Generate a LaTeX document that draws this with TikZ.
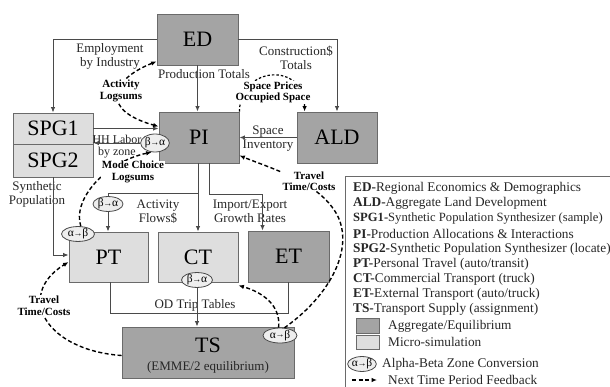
\documentclass[tikz,border=0pt]{standalone}
\usepackage{fontspec}
\setmainfont{Liberation Serif}
\usetikzlibrary{arrows.meta,shapes.geometric}
\definecolor{agg}{HTML}{A4A4A4}
\definecolor{mic}{HTML}{DEDEDE}
\definecolor{ell}{HTML}{EEEEEE}
\definecolor{bord}{HTML}{6A6A6A}
\definecolor{ln}{HTML}{4A4A4A}
\newcommand{\myarr}{\kern-0.3pt\raisebox{0.5pt}{\fontsize{9}{9}\selectfont →}\kern-0.3pt}
\begin{document}
\begin{tikzpicture}[x=1pt,y=-1pt,
  >={Latex[length=5.5pt,width=4.5pt]},
  aggbox/.style={draw=bord,fill=agg,line width=0.9pt,inner sep=0pt,font=\fontsize{22}{24}\selectfont},
  micbox/.style={draw=bord,fill=mic,line width=0.9pt,inner sep=0pt,font=\fontsize{22}{24}\selectfont},
  conv/.style={ellipse,draw=ln,fill=ell,line width=0.8pt,inner sep=0pt,font=\fontsize{11.5}{12}\selectfont},
  flow/.style={draw=ln,line width=0.9pt,->},
  plain/.style={draw=ln,line width=0.9pt},
  fb/.style={draw=black,line width=1.4pt,dash pattern=on 4pt off 2.5pt},
  lab/.style={font=\fontsize{13}{14}\selectfont,align=center,inner sep=0.5pt,text=black!85},
  blab/.style={font=\bfseries\fontsize{11}{11.5}\selectfont,align=center,fill=white,inner sep=0.5pt},
  leg/.style={font=\fontsize{13.3}{15}\selectfont,anchor=west,inner sep=0pt,text=black!85}]
\useasboundingbox (0,0) rectangle (610,387);

% boxes
\node[aggbox,minimum width=81pt,minimum height=51pt] (ED) at (197.5,39.5) {ED};
\node[aggbox,minimum width=80pt,minimum height=51pt] (PI) at (199,137.5) {PI};
\node[aggbox,minimum width=80pt,minimum height=51pt] (ALD) at (337,137.5) {ALD};
\node[micbox,minimum width=80pt,minimum height=31pt] (SPG1) at (53,128.5) {SPG1};
\node[micbox,minimum width=80pt,minimum height=33pt] (SPG2) at (53,160.5) {SPG2};
\node[micbox,minimum width=79pt,minimum height=50pt] (PT) at (108.5,257) {PT};
\node[micbox,minimum width=80pt,minimum height=50pt] (CT) at (198,257) {CT};
\node[aggbox,minimum width=81pt,minimum height=51pt] (ET) at (288.5,256.5) {ET};
\node[aggbox,minimum width=172pt,minimum height=51pt] (TS) at (208,352.5) {};
\node[font=\fontsize{22}{24}\selectfont,inner sep=0pt] (tsl) at (208,345) {TS};
\node[lab] (tss) at (208,367) {(EMME/2 equilibrium)};

% conversion ellipses
\node[conv,minimum width=25pt,minimum height=18pt] (e1) at (155,143) {β\myarr α};
\node[conv,minimum width=30pt,minimum height=13pt] (e2) at (108,204) {β\myarr α};
\node[conv,minimum width=33pt,minimum height=13pt] (e3) at (78,234) {α\myarr β};
\node[conv,minimum width=31pt,minimum height=14pt] (e4) at (197,280) {β\myarr α};
\node[conv,minimum width=34pt,minimum height=15pt] (e5) at (280,335.5) {α\myarr β};

% plain labels
\node[lab] (lemp) at (110,56) {Employment\\by Industry};
\node[lab] (lprod) at (204,74) {Production Totals};
\node[lab] (lcon) at (296,58) {Construction\$\\Totals};
\node[lab,font=\fontsize{12}{12}\selectfont] (lhh) at (117,147) {HH Labor\\by zone};
\node[lab] (lspace) at (268,139) {Space\\Inventory};
\node[lab] (lsyn) at (37,194.5) {Synthetic\\Population};
\node[lab] (lact) at (158,211.5) {Activity\\Flows\$};
\node[lab] (limp) at (250,211.5) {Import/Export\\Growth Rates};
\node[lab] (lod) at (195,305) {OD Trip Tables};

% solid connectors
\draw[flow] (ED.west) -| (SPG1.north);
\draw[flow] (ED.east) -| (ALD.north);
\draw[flow] (ED.south) -- (ED.south |- PI.north);
\draw[flow] (SPG1.east) -- (SPG1.east -| PI.west);
\draw[flow] (e1.west) -- (e1.west -| SPG1.east);
\draw[flow] (ALD.west) -- (PI.east);
\coordinate (pib) at (198,163);
\coordinate (j1) at (198,193);
\draw[flow] (pib) -- (CT.north);
\draw[plain] (j1) -| (e2.north);
\draw[flow] (e2.south) -- (e2.south |- PT.north);
\draw[flow] ([xshift=10pt]PI.south) -- ++(0,31) -| ([xshift=-26pt]ET.north);
\draw[flow] (SPG2.south) |- ([yshift=2pt]PT.west);
\draw[plain] ([xshift=1.5pt]PT.south) -- ++(0,31) -| (ET.south);
\draw[flow] (e4.south) -- (e4.south |- TS.north);

% dashed feedback
\draw[fb,<->] ([yshift=4pt]ED.south west) .. controls (110,80) and (100,110) .. ([yshift=11pt]PI.west);
\draw[fb,->] (e3.70) .. controls (72,200) and (105,162) .. (e1.250);
\draw[fb,->,line width=1.2pt,dash pattern=on 2.5pt off 2pt] (PI.north east) .. controls (240,65) and (305,62) .. ([xshift=8pt]ALD.north west);
\draw[fb,->] (e5.60) .. controls (335,292) and (358,240) .. (332,207) .. controls (312,180) and (270,168) .. ([yshift=-18pt]PI.east);
\draw[fb,->] (e5.100) .. controls (281,305) and (262,292) .. ([yshift=-3pt]CT.south east);
\draw[fb,->] ([yshift=-3pt]TS.west) .. controls (45,350) and (15,295) .. ([yshift=-5pt]PT.west);

% bold labels on dashed lines
\node[blab] (lal) at (121,91) {Activity\\Logsums};
\node[blab] (lmc) at (133,172) {Mode Choice\\Logsums};
\node[blab] (lsp) at (273,92.5) {Space Prices\\Occupied Space};
\node[blab] (ltr) at (309,181) {Travel\\Time/Costs};
\node[blab] (ltl) at (44,305.5) {Travel\\Time/Costs};

% legend
\draw[draw=bord,line width=0.9pt] (345,176) rectangle (616,392);
\node[leg] (g1) at (353,188) {\textbf{ED-}Regional Economics \& Demographics};
\node[leg] (g2) at (353,203) {\textbf{ALD-}Aggregate Land Development};
\node[leg,font=\fontsize{12.6}{15}\selectfont] (g3) at (353,218) {\textbf{SPG1-}Synthetic Population Synthesizer (sample)};
\node[leg] (g4) at (353,234) {\textbf{PI-}Production Allocations \& Interactions};
\node[leg] (g5) at (353,249) {\textbf{SPG2-}Synthetic Population Synthesizer (locate)};
\node[leg] (g6) at (353,264) {\textbf{PT-}Personal Travel (auto/transit)};
\node[leg] (g7) at (353,279) {\textbf{CT-}Commercial Transport (truck)};
\node[leg] (g8) at (353,294) {\textbf{ET-}External Transport (auto/truck)};
\node[leg] (g9) at (353,309) {\textbf{TS-}Transport Supply (assignment)};
\node[draw=bord,fill=agg,line width=0.8pt,minimum width=23pt,minimum height=15pt,inner sep=0pt] (sw1) at (367.5,325.5) {};
\node[leg] (g10) at (388,326) {Aggregate/Equilibrium};
\node[draw=bord,fill=mic,line width=0.8pt,minimum width=23pt,minimum height=14pt,inner sep=0pt] (sw2) at (367.5,342) {};
\node[leg] (g11) at (388,342) {Micro-simulation};
\node[conv,minimum width=22pt,minimum height=14pt] (ge) at (362,364) {α\myarr β};
\node[leg] (g12) at (382,364) {Alpha-Beta Zone Conversion};
\coordinate (fa) at (352,380);
\coordinate (fbb) at (377,380);
\draw[fb,->] (fa) -- (fbb);
\node[leg] (g13) at (388,380) {Next Time Period Feedback};
\end{tikzpicture}
\end{document}
